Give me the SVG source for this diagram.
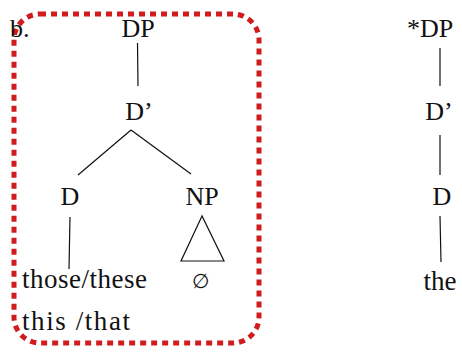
<svg xmlns="http://www.w3.org/2000/svg" width="462" height="354" viewBox="0 0 462 354">
<style>
.t{font-family:'Liberation Serif','Times New Roman',serif;fill:#111;font-size:26px}
.w{font-size:27px}
.e{stroke:#111;stroke-width:1.2;fill:none}
.box{fill:none;stroke:#d01c1c;stroke-width:5;stroke-dasharray:6 5}
</style>
<rect width="462" height="354" fill="#fff"/>
<rect class="box" x="14" y="14" width="245" height="329" rx="26"/>
<text class="t" x="10" y="37">b.</text>
<g id="edges">
<line class="e" x1="137.5" y1="43" x2="138" y2="86"/>
<line class="e" x1="131" y1="130" x2="78" y2="175"/>
<line class="e" x1="131" y1="130" x2="191" y2="174"/>
<line class="e" x1="70" y1="217" x2="69" y2="269"/>
<polygon class="e" points="202,216 181,261 224,261"/>
<line class="e" x1="440" y1="48" x2="440" y2="86"/>
<line class="e" x1="440" y1="135" x2="440" y2="175"/>
<line class="e" x1="440" y1="216" x2="441" y2="262"/>
</g>
<g id="DP"><text class="t" x="138" y="37" text-anchor="middle">DP</text></g>
<g id="Dbar"><text class="t" x="139" y="120" text-anchor="middle">D’</text></g>
<g id="D"><text class="t" x="70" y="205" text-anchor="middle">D</text></g>
<g id="NP"><text class="t" x="202" y="205" text-anchor="middle">NP</text></g>
<g id="empty"><text class="t" x="200" y="288" text-anchor="middle" style="font-size:20px">∅</text></g>
<g id="those"><text class="t w" x="22" y="288" textLength="125">those/these</text></g>
<g id="this"><text class="t w" x="22" y="330" textLength="108" xml:space="preserve">this /that</text></g>
<g id="DP2"><text class="t" x="407" y="37">*DP</text></g>
<g id="Dbar2"><text class="t" x="439" y="120" text-anchor="middle">D’</text></g>
<g id="D2"><text class="t" x="442" y="205" text-anchor="middle">D</text></g>
<g id="the"><text class="t w" x="440" y="290" text-anchor="middle">the</text></g>
</svg>
